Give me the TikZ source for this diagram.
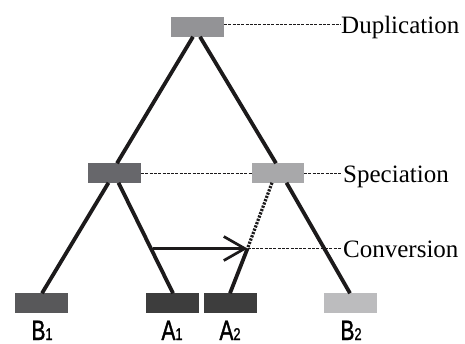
\documentclass[tikz,border=0pt]{standalone}
\usepackage{fontspec}
\setmainfont{Liberation Serif}
\newfontfamily\lblfont[FakeStretch=0.75,FakeBold=1.2]{Liberation Sans}
\usetikzlibrary{arrows.meta}
\definecolor{ink}{HTML}{1C1A1B}
\definecolor{dupc}{HTML}{939396}
\definecolor{slc}{HTML}{67676B}
\definecolor{src}{HTML}{A8A8AA}
\definecolor{bonec}{HTML}{58585A}
\definecolor{ac}{HTML}{3D3D3D}
\definecolor{btwoc}{HTML}{BCBCBE}
\begin{document}
\begin{tikzpicture}[x=1pt,y=-1pt,
  box/.style={draw=none, minimum width=53pt, minimum height=19.5pt, inner sep=0pt, outer sep=0pt},
  branch/.style={draw=ink, line width=3.8pt},
  guide/.style={draw=ink, line width=1.1pt, dash pattern=on 3pt off 1.3pt},
  dotline/.style={draw=ink, line width=3.2pt, dash pattern=on 2.2pt off 1.3pt},
  conv/.style={draw=ink, line width=2.4pt, -{Straight Barb[length=21pt,width=24pt,line width=2.7pt]}},
  evt/.style={font=\fontsize{25}{26}\selectfont, anchor=base west, inner sep=0pt},
  leaf/.style={font=\lblfont\fontsize{28}{28}\selectfont, anchor=base, inner sep=0pt}]
\useasboundingbox (0,0) rectangle (465,343);
% boxes
\node[box, fill=dupc] (dup) at (197.5,27) {};
\node[box, fill=slc] (sl) at (114.5,173) {};
\node[box, fill=src, minimum width=52pt] (sr) at (278,173) {};
\node[box, fill=bonec] (b1) at (41.5,303) {};
\node[box, fill=ac] (a1) at (172.5,303) {};
\node[box, fill=ac] (a2) at (230.5,303) {};
\node[box, fill=btwoc] (b2) at (350.5,303) {};
% event labels
\node[evt] (tdup) at (341,33.3) {Duplication};
\node[evt] (tspe) at (343,182.5) {Speciation};
\node[evt] (tcon) at (343,257.5) {Conversion};
% leaf labels
\node[leaf] (lb1) at (42,340) {B{\fontsize{17}{17}\selectfont 1}};
\node[leaf] (la1) at (172,340) {A{\fontsize{17}{17}\selectfont 1}};
\node[leaf] (la2) at (230,340) {A{\fontsize{17}{17}\selectfont 2}};
\node[leaf] (lb2) at (351,340) {B{\fontsize{17}{17}\selectfont 2}};
% tree branches
\draw[branch] ([xshift=-4.5pt]dup.south) -- ([xshift=2.5pt]sl.north);
\draw[branch] ([xshift=2.5pt]dup.south) -- ([xshift=-2pt]sr.north);
\draw[branch] ([xshift=-6pt]sl.south) -- ([xshift=0.5pt]b1.north);
\draw[branch] ([xshift=4pt]sl.south) -- ([xshift=0.5pt]a1.north);
\draw[branch] ([xshift=8.5pt]sr.south) -- ([xshift=-0.5pt]b2.north);
% conversion path
\coordinate (cv) at (247.5,248.5);
\coordinate (cs) at (153,248.5);
\draw[dotline] ([xshift=-6pt]sr.south) -- (cv);
\draw[branch] (cv) -- ([xshift=-0.5pt]a2.north);
\draw[conv] (cs) -- (cv);
% guides
\draw[guide] ([yshift=2.5pt]dup.east) -- ([yshift=8.8pt]tdup.base west);
\draw[guide] ([yshift=-0.5pt]sl.east) -- ([yshift=-0.5pt]sr.west);
\draw[guide] ([yshift=-0.5pt]sr.east) -- ([xshift=-2pt,yshift=9pt]tspe.base west);
\draw[guide] (cv) -- ([xshift=-1pt,yshift=9pt]tcon.base west);
\end{tikzpicture}
\end{document}
